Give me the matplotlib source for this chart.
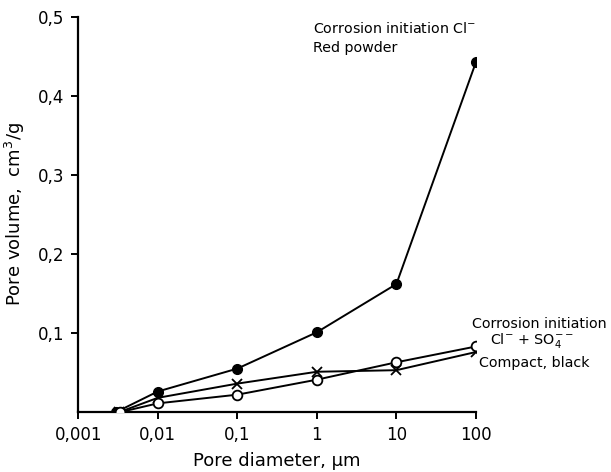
import matplotlib
matplotlib.use("Agg")
import matplotlib.pyplot as plt
from matplotlib.ticker import FixedLocator, NullLocator

plt.rcParams['font.family'] = ['DejaVu Sans']

# Data
x_red = [0.003, 0.01, 0.1, 1, 10, 100]
y_red = [0.0, 0.026, 0.055, 0.101, 0.162, 0.443]

x_cross = [0.0033, 0.01, 0.1, 1, 10, 100]
y_cross = [0.0, 0.018, 0.036, 0.051, 0.053, 0.076]

x_open = [0.0034, 0.01, 0.1, 1, 10, 100]
y_open = [0.0, 0.011, 0.022, 0.041, 0.063, 0.083]

xticks = [0.001, 0.01, 0.1, 1, 10, 100]
xtick_labels = ["0,001", "0,01", "0,1", "1", "10", "100"]
yticks = [0.1, 0.2, 0.3, 0.4, 0.5]
ytick_labels = ["0,1", "0,2", "0,3", "0,4", "0,5"]

fig = plt.figure(figsize=(6.11, 4.72), dpi=100)
ax = fig.add_axes([0.128, 0.127, 0.651, 0.837])

ax.plot(x_red, y_red, color='black', lw=1.4, marker='o', ms=7,
        mfc='black', mec='black', zorder=3)
ax.plot(x_cross, y_cross, color='black', lw=1.4, marker='x', ms=7,
        mew=1.3, zorder=3)
ax.plot(x_open, y_open, color='black', lw=1.4, marker='o', ms=7,
        mfc='white', mec='black', mew=1.3, zorder=4)

ax.set_xscale('log')
ax.set_xlim(0.001, 100)
ax.set_ylim(0, 0.5)
ax.xaxis.set_major_locator(FixedLocator(xticks))
ax.xaxis.set_minor_locator(NullLocator())
ax.set_xticklabels(xtick_labels)
ax.set_yticks(yticks)
ax.set_yticklabels(ytick_labels)

for s in ['top', 'right']:
    ax.spines[s].set_visible(False)
for s in ['left', 'bottom']:
    ax.spines[s].set_linewidth(1.6)
ax.tick_params(axis='both', direction='out', length=5, width=1.4,
               labelsize=12, pad=5)

ax.set_xlabel("Pore diameter, µm", fontsize=13, labelpad=6)
ax.set_ylabel("Pore volume,  cm$^3$/g", fontsize=13, labelpad=8)

fs = 10.3
ax.text(0.9, 0.480, "Corrosion initiation Cl$^{-}$", fontsize=fs,
        ha='left', va='baseline', clip_on=False)
ax.text(0.9, 0.456, "Red powder", fontsize=fs, ha='left', va='baseline',
        clip_on=False)

ax.text(90, 0.106, "Corrosion initiation", fontsize=fs, ha='left',
        va='baseline', clip_on=False)
ax.text(150, 0.086, "Cl$^{-}$ + SO$_4^{--}$", fontsize=fs, ha='left',
        va='baseline', clip_on=False)
ax.text(109, 0.057, "Compact, black", fontsize=fs, ha='left',
        va='baseline', clip_on=False)

fig.savefig("out.png", dpi=100)
